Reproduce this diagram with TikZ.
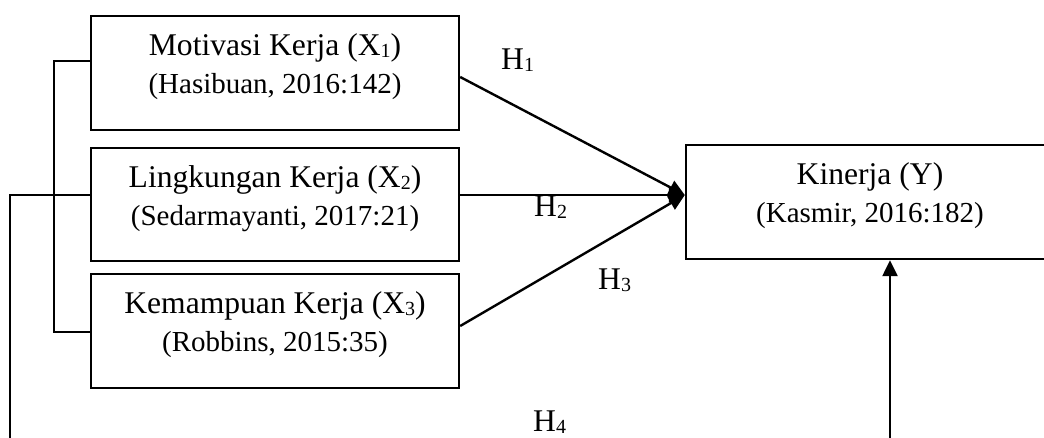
\documentclass[tikz,border=0pt]{standalone}
\usepackage{fontspec}
\setmainfont{Liberation Serif}
\usetikzlibrary{arrows.meta}
\newcommand\subsc[1]{\raisebox{-2pt}{\fontsize{20}{20}\selectfont #1}}
\newcommand\lineA{\fontsize{31.6}{38}\selectfont}
\newcommand\lineB{\fontsize{29}{38}\selectfont}
\begin{document}
\begin{tikzpicture}[x=1pt,y=-1pt,
  box/.style={draw, line width=2.4pt, inner sep=0pt, minimum width=368pt, minimum height=114pt},
  txt/.style={inner sep=0pt, align=center, font=\lineB},
  hl/.style={inner sep=0pt, font=\lineA},
  conn/.style={line width=2.4pt},
  arr/.style={line width=2.4pt, -{Triangle[length=16pt,width=15pt]}}]
\useasboundingbox (0,0) rectangle (1044,438);
\clip (0,0) rectangle (1044,438);
% boxes
\node[box] (x1) at (275,73) {};
\node[box, minimum height=113pt] (x2) at (275,204.5) {};
\node[box] (x3) at (275,331) {};
\node[box] (Y) at (870,202) {};
% texts
\node[txt, anchor=north] (t1) at ([yshift=-19pt]x1.north) {{\lineA Motivasi Kerja (X\subsc{1})}\\(Hasibuan, 2016:142)};
\node[txt, anchor=north] (t2) at ([yshift=-19pt]x2.north) {{\lineA Lingkungan Kerja (X\subsc{2})}\\(Sedarmayanti, 2017:21)};
\node[txt, anchor=north] (t3) at ([yshift=-19pt]x3.north) {{\lineA Kemampuan Kerja (X\subsc{3})}\\(Robbins, 2015:35)};
\node[txt, anchor=north] (ty) at ([yshift=-19pt]Y.north) {{\lineA Kinerja (Y)}\\(Kasmir, 2016:182)};
% coordinates
\coordinate (x1w) at ([yshift=12pt]x1.west);
\coordinate (x2w) at ([yshift=9.5pt]x2.west);
\coordinate (x3w) at ([yshift=-1pt]x3.west);
\coordinate (br) at (54,61);
\coordinate (lb) at (10,445);
\coordinate (rb) at (890,445);
\coordinate (yin) at ([yshift=7pt]Y.west);
% connectors
\draw[conn] (x1w) -- (br) |- (x3w);
\draw[conn] (lb) |- (x2w);
\draw[arr] ([yshift=-4pt]x1.east) -- (yin);
\draw[arr] ([yshift=9.5pt]x2.east) -- (yin);
\draw[arr] ([yshift=5pt]x3.east) -- (yin);
\draw[arr] (rb) -- (rb |- Y.south);
% labels
\node[hl, anchor=base west] (h1) at (501,70) {H\subsc{1}};
\node[hl, anchor=base west] (h2) at (534,217) {H\subsc{2}};
\node[hl, anchor=base west] (h3) at (598,290) {H\subsc{3}};
\node[hl, anchor=base west] (h4) at (533,431) {H\subsc{4}};
\end{tikzpicture}
\end{document}
